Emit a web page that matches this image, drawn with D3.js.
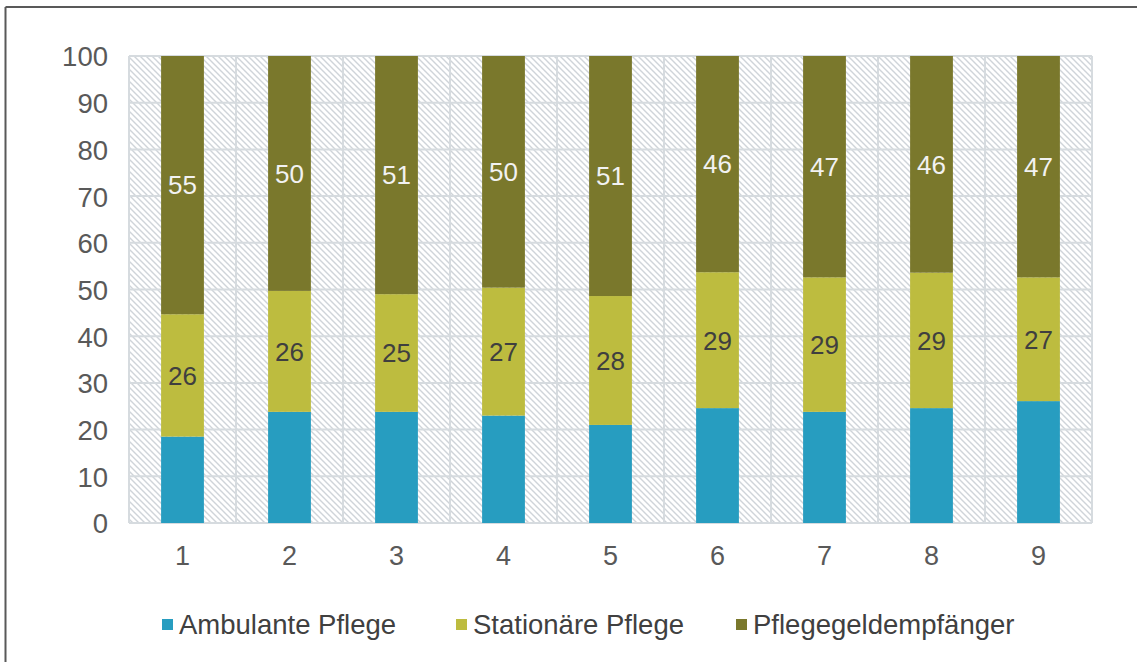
<!DOCTYPE html>
<html><head><meta charset="utf-8">
<script src="https://cdn.jsdelivr.net/npm/d3@7"></script>
<style>
html,body{margin:0;padding:0;background:#fff;}
svg{display:block;font-family:"Liberation Sans",Arial,sans-serif;}
</style></head>
<body>
<svg id="chart" width="1137" height="662"></svg>
<script>
const categories = ["1","2","3","4","5","6","7","8","9"];
const seriesNames = ["Ambulante Pflege","Stationäre Pflege","Pflegegeldempfänger"];
const ambulante = [18.5, 23.8, 23.8, 23.0, 21.0, 24.6, 23.8, 24.6, 26.1];
const stationaer = [26.2, 25.9, 25.2, 27.4, 27.6, 29.1, 28.8, 29.0, 26.5];
const pflegegeld = [55.3, 50.3, 51.0, 49.6, 51.4, 46.3, 47.4, 46.4, 47.4];
const yTicks = [0,10,20,30,40,50,60,70,80,90,100];
const colors = ["#279dc0","#bdbc3f","#7a782c"];
const labelColors = [null,"#3f3f3f","#f2f2f2"];

const svg = d3.select("#chart");
const W = 1137, H = 662;
const m = {left:129, right:1092, top:56, bottom:523};

// frame (top and left edges)
svg.append("line").attr("x1",5.5).attr("x2",W).attr("y1",7).attr("y2",7).attr("stroke","#595959").attr("stroke-width",2);
svg.append("line").attr("x1",5.5).attr("x2",5.5).attr("y1",7).attr("y2",H).attr("stroke","#595959").attr("stroke-width",2);

const x = d3.scaleBand().domain(categories).range([m.left, m.right]).paddingInner(0).paddingOuter(0);
const y = d3.scaleLinear().domain([0,100]).range([m.bottom, m.top]);

// hatch pattern
const defs = svg.append("defs");
const pat = defs.append("pattern").attr("id","hatch").attr("patternUnits","userSpaceOnUse")
  .attr("width",6).attr("height",6);
pat.append("rect").attr("width",6).attr("height",6).attr("fill","#ffffff");
pat.append("path").attr("d","M-1,-1 L7,7 M-1,5 L1,7 M5,-1 L7,1")
  .attr("stroke","#cfd4d9").attr("stroke-width",1.4);

svg.append("rect").attr("x",m.left).attr("y",m.top)
  .attr("width",m.right-m.left).attr("height",m.bottom-m.top).attr("fill","url(#hatch)");

// grid
const grid = svg.append("g");
grid.selectAll("line.h").data(yTicks).join("line")
  .attr("x1",m.left).attr("x2",m.right)
  .attr("y1",d=>y(d)).attr("y2",d=>y(d))
  .attr("stroke","#d6dbdf").attr("stroke-width",2);
const vb = categories.map(c=>x(c)).concat([m.right]);
grid.selectAll("line.v").data(vb).join("line")
  .attr("x1",d=>d).attr("x2",d=>d)
  .attr("y1",m.top).attr("y2",m.bottom)
  .attr("stroke","#d6dbdf").attr("stroke-width",2);

// stacked data
const rows = categories.map((c,i)=>({cat:c, a:ambulante[i], s:stationaer[i], p:pflegegeld[i]}));
const stack = d3.stack().keys(["a","s","p"])(rows);
const bw = x.bandwidth()*0.4;

stack.forEach((layer,li)=>{
  const g = svg.append("g");
  g.selectAll("rect").data(layer).join("rect")
    .attr("x",d=>x(d.data.cat)+x.bandwidth()/2-bw/2)
    .attr("width",bw)
    .attr("y",d=>y(d[1]))
    .attr("height",d=>y(d[0])-y(d[1]))
    .attr("fill",colors[li]);
  if(labelColors[li]){
    g.selectAll("text").data(layer).join("text")
      .attr("x",d=>x(d.data.cat)+x.bandwidth()/2)
      .attr("y",d=>y((d[0]+d[1])/2))
      .attr("dy","0.36em")
      .attr("text-anchor","middle")
      .attr("font-size",26)
      .attr("fill",labelColors[li])
      .text(d=>Math.round(d[1]-d[0]));
  }
});

// axes
const yAxis = svg.append("g").attr("transform",`translate(${m.left-21},0)`)
  .call(d3.axisLeft(y).tickValues(yTicks).tickSize(0).tickPadding(0));
yAxis.select(".domain").remove();
yAxis.selectAll("text").attr("font-size",27.5).attr("fill","#595959").attr("dy","0.36em").attr("font-family","Liberation Sans, Arial, sans-serif");

const xAxis = svg.append("g").attr("transform",`translate(0,${m.bottom+23})`)
  .call(d3.axisBottom(x).tickSize(0).tickPadding(0));
xAxis.select(".domain").remove();
xAxis.selectAll("text").attr("font-size",27).attr("fill","#595959").attr("dy","0.71em").attr("font-family","Liberation Sans, Arial, sans-serif");

// legend
const legendX = [162, 456, 736];
const lg = svg.append("g");
seriesNames.forEach((n,i)=>{
  lg.append("rect").attr("x",legendX[i]).attr("y",619).attr("width",11).attr("height",11).attr("fill",colors[i]);
  lg.append("text").attr("x",legendX[i]+17).attr("y",634).attr("font-size",27.5).attr("fill","#404040").text(n);
});
</script>
</body></html>
